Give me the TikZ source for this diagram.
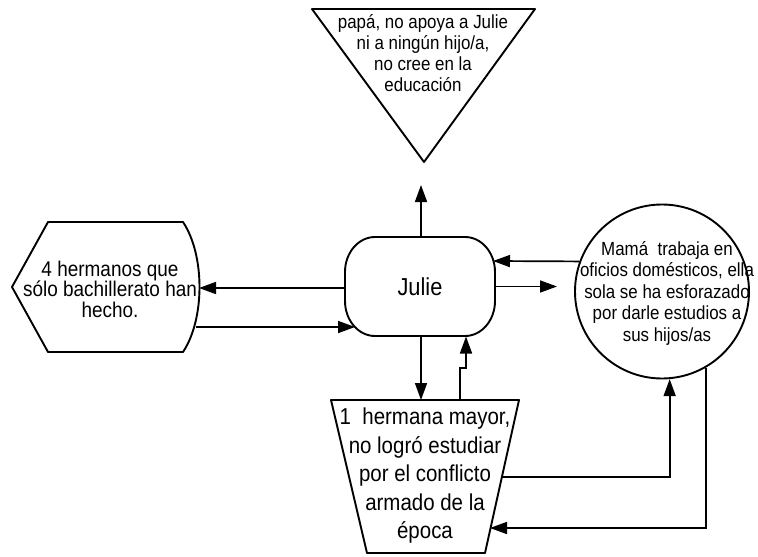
\documentclass[tikz,border=0pt]{standalone}
\usepackage{fontspec}
\setmainfont{Liberation Sans}[FakeStretch=0.89]
\usetikzlibrary{arrows.meta,positioning}
\tikzset{every node/.append style={transform shape=false}}
\tikzset{borde/.style={line width=1.9pt, line join=round}}
\tikzset{flecha/.style={-{Triangle[length=17pt,width=12pt]}, line width=1.7pt}}

\begin{document}
\begin{tikzpicture}[x=1pt,y=-1pt]
  \fill[white] (0,0) rectangle (758,557);
  \useasboundingbox (0,0) rectangle (758,557);

  % papa
  \draw[borde] (312,9) -- (535,9) -- (424,162) -- cycle;
  \node[align=center, font=\fontsize{19}{21}\selectfont] (papa) at (423,53)
       {papá, no apoya a Julie\\ni a ningún hijo/a,\\no cree en la\\educación};
  \coordinate (papa-pta) at (421,185);

  % Julie
  \node[minimum width=150pt, minimum height=99pt,
        font=\fontsize{24.5}{27}\selectfont] (julie) at (420,286.5) {Julie};
  \draw[borde] (375,237) -- (465,237)
       arc[start angle=-90, end angle=0, x radius=30, y radius=35] -- (495,301)
       arc[start angle=0, end angle=90, x radius=30, y radius=35] -- (375,336)
       arc[start angle=90, end angle=180, x radius=30, y radius=35] -- (345,272)
       arc[start angle=180, end angle=270, x radius=30, y radius=35] -- cycle;
  \coordinate (julie-lo) at (355,327);
  \coordinate (julie-ne) at (493,261);
  \coordinate (julie-sur) at (466,336.5);

  % hermanos
  \draw[borde] (48,222) -- (183,222) .. controls (205,255) and (205,319) .. (183,352)
       -- (48,352) -- (12,287) -- cycle;
  \node[align=center, font=\fontsize{21.3}{20.5}\selectfont] (hermanos) at (110,289)
       {4 hermanos que\\sólo bachillerato han\\hecho.};
  \coordinate (herm-e) at (199,288);
  \coordinate (herm-lo) at (196,327);

  % mama
  \node[draw, borde, circle, minimum size=174pt, inner sep=0pt] (mama) at (662,291.5) {};
  \node[align=center, font=\fontsize{19}{21.5}\selectfont] (mamatxt) at (667,293)
       {Mamá\ \ trabaja en\\oficios domésticos, ella\\sola se ha esforazado\\por darle estudios a\\sus hijos/as};
  \coordinate (mama-izq) at (557,286.5);

  % hermana mayor
  \draw[borde] (331,400) -- (519,400) -- (485,553) -- (367,553) -- cycle;
  \node[align=center, font=\fontsize{23}{28.5}\selectfont] (hermana) at (425,476)
       {1\ \ hermana mayor,\\no logró estudiar\\por el conflicto\\armado de la\\época};
  \coordinate (hna-baja) at (421,400);
  \coordinate (hna-sube) at (460,400);
  \coordinate (hna-der) at (502,477);
  \coordinate (hna-der2) at (490,528);

  % flechas
  \draw[flecha] (julie.north -| papa-pta) -- (papa-pta);
  \draw[flecha] (julie.west |- herm-e) -- (herm-e);
  \draw[flecha] (herm-lo) -- (julie-lo);
  \draw[flecha] (mama.160) -- (julie-ne);
  \draw[flecha] (julie.east) -- (mama-izq);
  \draw[flecha] (julie.south -| hna-baja) -- (hna-baja);
  \draw[flecha] (hna-sube) -- ++(0,-32) -| (julie-sur);
  \draw[flecha] (hna-der) -| (mama.-85);
  \draw[flecha] (mama.-60) |- (hna-der2);
\end{tikzpicture}
\end{document}
